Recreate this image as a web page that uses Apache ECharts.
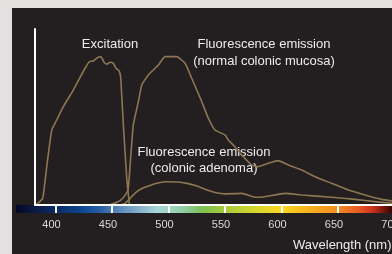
<!DOCTYPE html>
<html>
<head>
<meta charset="utf-8">
<script src="https://cdn.jsdelivr.net/npm/echarts@6/dist/echarts.min.js"></script>
<style>
  html, body { margin: 0; padding: 0; background: #e3e0e0; }
  #wrap { position: relative; width: 392px; height: 254px; overflow: hidden; }
  #panel { position: absolute; left: 12px; top: 8px; right: 0; bottom: 0; background: #231f20; }
  #chart { position: absolute; left: 0; top: 0; width: 392px; height: 254px; }
</style>
</head>
<body>
<div id="wrap">
  <div id="panel"></div>
  <div id="chart"></div>
</div>
<script>
// wavelengths (nm) and relative intensity
const excitationNm = [383, 388.8, 392.4, 396.8, 399.7, 407.1, 415.9, 426.3, 430.1, 433.6, 436.6, 439.6, 441.1, 443.1, 445.5, 448.4, 451.3, 453.7, 456.6, 457.9, 460.2, 463.2, 465.5]
const excitationVal = [0, 3.8, 22, 42.6, 46.4, 55.9, 65.3, 77.7, 81.4, 81.8, 83.4, 84.3, 83.7, 81.1, 80, 81.1, 80.5, 77.7, 76.1, 72, 45.5, 15.3, 0.5]

const normalNm = [449, 455.1, 459.9, 464.3, 466.5, 469, 473.5, 476.5, 482.3, 491.2, 497.1, 507.4, 514.8, 520.7, 529.6, 535.4, 541.3, 550.2, 553.1, 559, 565, 573.8, 579.6, 588.5, 597.3, 606.2, 618.1, 629.8, 644.6, 659.3, 674.1, 688.8, 700]
const normalVal = [0.3, 1.7, 4, 8.5, 25.6, 45.5, 58.7, 68.2, 73.9, 79.5, 84.3, 84.3, 80.5, 72, 58.7, 49.3, 42.6, 39.8, 36.9, 33.1, 28.4, 22.7, 21.8, 23.7, 25.2, 22.7, 19.9, 16.1, 12.3, 8.5, 5.7, 3.2, 2.2]

const adenomaNm = [457.3, 461.7, 466.1, 470.5, 476.7, 483.8, 490.9, 498.8, 507.7, 516.6, 525.4, 534.3, 541.3, 550.2, 565, 576.7, 585.6, 603.3, 618, 644.6, 665.3, 683, 700]
const adenomaVal = [0, 0.9, 3.7, 6.8, 9.4, 11.1, 12.5, 13.2, 13.1, 12.3, 10.8, 8.5, 7.1, 6.3, 6.6, 4.4, 4.7, 6.6, 5.7, 4.4, 3.2, 1.9, 0.8]

const tickNm = [400, 450, 500, 550, 600, 650, 700]

// spectrum strip
const spectrumNm = [365, 375, 400, 425, 440, 450, 475, 490, 500, 515, 530, 550, 575, 600, 625, 650, 670, 682, 692, 700]
const spectrumColor = ['#050726', '#081338', '#0b2a66', '#0f4895', '#2a5fa6', '#4a7ab4', '#88b3cc', '#a6d6d8', '#a0d4c4', '#8ecc9e', '#7cc150', '#a8c93c', '#d3d52e', '#fdd820', '#f8ae1e', '#f18d22', '#e65324', '#c2301c', '#6c1008', '#1a0202']

const barMin = 365
const barMax = 700
const lineColor = '#8d7752'
const textColor = '#ececec'
const font = '"Liberation Sans", Arial, sans-serif'

const zip = (xs, ys) => xs.map((x, i) => [x, ys[i]])

const spectrumGradient = new echarts.graphic.LinearGradient(0, 0, 1, 0,
  spectrumNm.map((w, i) => ({ offset: (w - barMin) / (barMax - barMin), color: spectrumColor[i] })))

const curve = (name, data) => ({
  name: name,
  type: 'line',
  xAxisIndex: 0,
  yAxisIndex: 0,
  data: data,
  showSymbol: false,
  symbol: 'none',
  smooth: 0.15,
  silent: true,
  lineStyle: { color: lineColor, width: 1.6 },
  z: 3
})

const chart = echarts.init(document.getElementById('chart'))
chart.setOption({
  animation: false,
  backgroundColor: 'transparent',
  grid: [
    { left: 35, top: 29, width: 359.3, height: 176, outerBoundsMode: 'none' },
    { left: 16, top: 205, width: 378.5, height: 8, outerBoundsMode: 'none' }
  ],
  xAxis: [
    {
      type: 'value', gridIndex: 0, min: 382, max: 700,
      axisLine: { show: true, lineStyle: { color: '#ffffff', width: 2 } },
      axisTick: { show: false }, axisLabel: { show: false }, splitLine: { show: false },
      z: 10
    },
    {
      type: 'value', gridIndex: 1, min: barMin, max: barMax,
      axisLine: { show: false },
      axisTick: { show: true, inside: true, length: 7, customValues: tickNm, lineStyle: { color: '#ffffff', width: 2 } },
      axisLabel: { customValues: tickNm, color: '#d9d9d9', fontSize: 11, fontFamily: font, margin: 6, padding: [0, 8, 0, 0] },
      splitLine: { show: false },
      z: 10
    }
  ],
  yAxis: [
    {
      type: 'value', gridIndex: 0, min: 0, max: 100,
      axisLine: { show: true, lineStyle: { color: '#ffffff', width: 2 } },
      axisTick: { show: false }, axisLabel: { show: false }, splitLine: { show: false },
      z: 10
    },
    { type: 'value', gridIndex: 1, min: 0, max: 1, show: false }
  ],
  series: [
    curve('Excitation', zip(excitationNm, excitationVal)),
    curve('Normal colonic mucosa', zip(normalNm, normalVal)),
    curve('Colonic adenoma', zip(adenomaNm, adenomaVal)),
    {
      type: 'line',
      xAxisIndex: 1,
      yAxisIndex: 1,
      data: [[barMin, 0]],
      symbol: 'none',
      silent: true,
      lineStyle: { opacity: 0 },
      z: 1,
      markArea: {
        silent: true,
        itemStyle: { color: spectrumGradient },
        data: [[{ xAxis: barMin, yAxis: 0 }, { xAxis: barMax, yAxis: 1 }]]
      }
    }
  ],
  graphic: [
    {
      type: 'text', x: 110, y: 44,
      style: { text: 'Excitation', fill: textColor, fontSize: 13, fontFamily: font, align: 'center', verticalAlign: 'middle' }
    },
    {
      type: 'text', x: 264, y: 52.5,
      style: { text: 'Fluorescence emission\n(normal colonic mucosa)', fill: textColor, fontSize: 13, lineHeight: 17, fontFamily: font, align: 'center', verticalAlign: 'middle' }
    },
    {
      type: 'text', x: 204, y: 160.5,
      style: { text: 'Fluorescence emission\n(colonic adenoma)', fill: textColor, fontSize: 13, lineHeight: 16, fontFamily: font, align: 'center', verticalAlign: 'middle' }
    },
    {
      type: 'text', x: 293, y: 245,
      style: { text: 'Wavelength (nm)', fill: textColor, fontSize: 13, fontFamily: font, align: 'left', verticalAlign: 'middle' }
    }
  ]
})
</script>
</body>
</html>
